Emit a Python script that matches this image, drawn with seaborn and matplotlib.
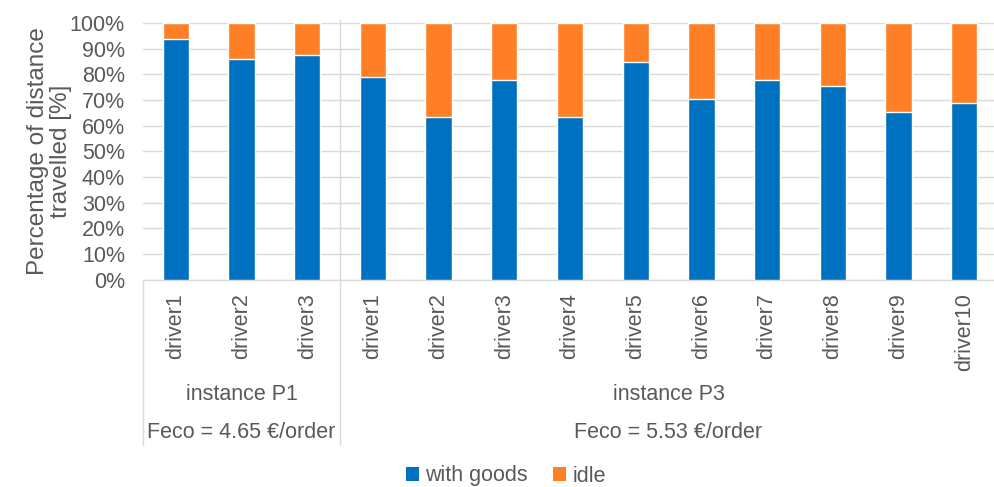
import matplotlib
matplotlib.use("Agg")
import matplotlib.pyplot as plt
import matplotlib.transforms as mtransforms
from matplotlib.patches import Patch
import seaborn as sns
import pandas as pd

# Share of distance travelled per driver, grouped by instance
instances = ["instance P1", "instance P3"]
feco_labels = ["Feco = 4.65 €/order", "Feco = 5.53 €/order"]
drivers_p1 = ["driver1", "driver2", "driver3"]
drivers_p3 = ["driver1", "driver2", "driver3", "driver4", "driver5",
              "driver6", "driver7", "driver8", "driver9", "driver10"]
with_goods_p1 = [93.8, 85.9, 87.4]
with_goods_p3 = [79.1, 63.3, 77.7, 63.3, 84.9, 70.5, 77.9, 75.5, 65.2, 69.0]
series_names = ["with goods", "idle"]
y_ticks = [0, 10, 20, 30, 40, 50, 60, 70, 80, 90, 100]

BLUE = "#0070C0"
ORANGE = "#FF7F27"
TEXT = "#595959"
GRID = "#D9D9D9"

sns.set_theme(style="white")
plt.rcParams["font.family"] = ["Liberation Sans", "DejaVu Sans"]

rows = []
for inst, drivers, goods in [(instances[0], drivers_p1, with_goods_p1),
                             (instances[1], drivers_p3, with_goods_p3)]:
    for d, g in zip(drivers, goods):
        rows.append({"key": f"{inst} {d}", "driver": d, "instance": inst,
                     "with goods": g, "idle": 100 - g})
df = pd.DataFrame(rows)
df["total"] = df["with goods"] + df["idle"]
order = list(df["key"])

fig = plt.figure(figsize=(9.95, 4.87), dpi=100)
ax = fig.add_axes([143 / 995, 1 - 279.7 / 487, (997 - 143) / 995, (279.7 - 23) / 487])

for y in y_ticks:
    ax.axhline(y, color=GRID, lw=1.0, zorder=0)

# stacked: full-height idle bar first, goods share drawn on top of it
sns.barplot(data=df, x="key", y="total", order=order, color=ORANGE,
            width=0.4, saturation=1, ax=ax, zorder=2)
sns.barplot(data=df, x="key", y="with goods", order=order, color=BLUE,
            width=0.4, saturation=1, ax=ax, zorder=3)

ax.set_xlim(-0.5, len(order) - 0.5)
ax.set_ylim(0, 100)
ax.set_yticks(y_ticks)
ax.set_yticklabels([f"{t}%" for t in y_ticks], fontsize=15.5, color=TEXT)
ax.set_xticks(range(len(order)))
ax.set_xticklabels(list(df["driver"]), rotation=90, fontsize=15.5, color=TEXT,
                   va="top", ha="center")
ax.tick_params(axis="y", length=0, pad=13)
ax.tick_params(axis="x", length=0, pad=10)
ax.set_xlabel("")
ax.set_ylabel("Percentage of distance\ntravelled [%]", fontsize=17.5, color=TEXT,
              linespacing=1.05)
ax.yaxis.set_label_coords(-0.083, 0.5)

for side in ["top", "right", "left"]:
    ax.spines[side].set_visible(False)
ax.spines["bottom"].set_color(GRID)
ax.spines["bottom"].set_linewidth(1.0)

trans = mtransforms.blended_transform_factory(ax.transData, ax.transAxes)
bottom_y = -(445 - 279.7) / (279.7 - 23)
n1 = len(drivers_p1)
n = len(order)
for x, top in [(-0.5, 0.0), (n1 - 0.5, 1.01), (n - 0.5, 0.0)]:
    ax.plot([x, x], [top, bottom_y], transform=trans, color=GRID, lw=1.0,
            clip_on=False, zorder=1)

inst_y = -(395 - 279.7) / (279.7 - 23)
feco_y = -(433 - 279.7) / (279.7 - 23)
centers = [(n1 - 1) / 2, n1 + (n - n1 - 1) / 2]
for cx, inst, feco in zip(centers, instances, feco_labels):
    ax.text(cx, inst_y, inst, transform=trans, ha="center", va="center",
            fontsize=15.5, color=TEXT)
    ax.text(cx, feco_y, feco, transform=trans, ha="center", va="center",
            fontsize=15.5, color=TEXT)

handles = [Patch(facecolor=BLUE, edgecolor="none"),
           Patch(facecolor=ORANGE, edgecolor="none")]
fig.legend(handles, series_names, loc="center", bbox_to_anchor=(506 / 995, 1 - 476 / 487),
           ncol=2, frameon=False, fontsize=15.5, handlelength=0.6, handleheight=0.6,
           handletextpad=0.3, columnspacing=1.2, labelcolor=TEXT)

fig.savefig("out.png", dpi=100)
